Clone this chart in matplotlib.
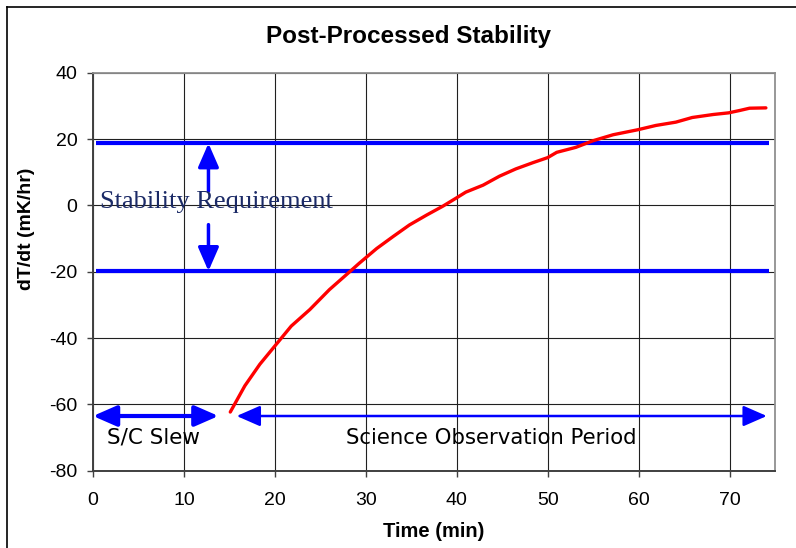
import matplotlib.pyplot as plt
from matplotlib.lines import Line2D

plt.rcParams['axes.unicode_minus'] = False

# Curve
time_min = [15.1, 16.7, 18.35, 20.0, 21.8, 23.85, 26.0, 28.4, 29.3, 31.2, 33.0,
            34.8, 36.7, 38.5, 40.0, 41.0, 42.9, 44.7, 46.5, 48.4, 50.0, 51.0,
            53.1, 55.0, 57.2, 59.9, 61.9, 64.1, 65.9, 68.2, 69.9, 71.1, 72.2, 74.0]
dtdt = [-62.3, -54.4, -47.9, -42.4, -36.4, -31.4, -25.4, -19.6, -17.4, -13.0, -9.4,
        -5.9, -2.9, -0.2, 2.3, 4.0, 6.1, 8.8, 11.0, 12.9, 14.4, 16.0,
        17.5, 19.5, 21.3, 22.8, 24.1, 25.1, 26.5, 27.4, 27.9, 28.6, 29.3, 29.4]

req_upper = 18.7
req_lower = -19.8
slew_end = 13.8
obs_start = 15.8
obs_end = 74.1
period_y = -63.5

fig = plt.figure(figsize=(7.96, 5.48), dpi=100)
ax = fig.add_axes([0.1168, 0.141, 0.8568, 0.7263])

# figure frame, only top and left edges show
fig.add_artist(Line2D([0.0085, 0.0085], [0, 0.987], transform=fig.transFigure,
                      color='black', linewidth=1.2))
fig.add_artist(Line2D([0.0085, 1], [0.987, 0.987], transform=fig.transFigure,
                      color='black', linewidth=1.2))

ax.set_xlim(0, 75)
ax.set_ylim(-80, 40)
ax.set_xticks(range(0, 71, 10))
ax.set_yticks(range(-80, 41, 20))
ax.grid(True, color='#202020', linewidth=0.8)
ax.set_axisbelow(True)
ax.tick_params(direction='out', length=4.3, width=1, labelsize=14, color='#404040')
ax.tick_params(axis='x', pad=11)
ax.tick_params(axis='y', pad=7)
for lbl in ax.get_xticklabels() + ax.get_yticklabels():
    lbl.set_family('Liberation Sans')
ax.spines['top'].set_color('#909090')
ax.spines['right'].set_color('#909090')
ax.spines['top'].set_linewidth(1.3)
ax.spines['right'].set_linewidth(1.3)
ax.spines['left'].set_color('#404040')
ax.spines['bottom'].set_color('#404040')
ax.spines['left'].set_linewidth(1.4)
ax.spines['bottom'].set_linewidth(1.4)

# requirement band lines
ax.hlines([req_upper, req_lower], 0.3, 74.3, color='#0000FF', linewidth=3)

# curve
ax.plot(time_min, dtdt, color='#FF0000', linewidth=2.4, zorder=5,
        solid_capstyle='round', solid_joinstyle='round')

# vertical requirement arrows
arrow_kw = dict(arrowstyle='-|>,head_length=0.8,head_width=0.35', color='#0000FF',
                lw=2.5, mutation_scale=18, shrinkA=0, shrinkB=0)
ax.annotate('', xy=(12.7, req_upper), xytext=(12.7, 4.3), arrowprops=arrow_kw)
ax.annotate('', xy=(12.7, req_lower), xytext=(12.7, -5.8), arrowprops=arrow_kw)
ax.text(0.77, 1.0, 'Stability Requirement', family='Liberation Serif', fontsize=19,
        color='#1B2A66', va='center', ha='left')

# slew / observation arrows
ax.annotate('', xy=(0.0, period_y), xytext=(slew_end, period_y),
            arrowprops=dict(arrowstyle='<|-|>,head_length=0.8,head_width=0.35',
                            color='#0000FF', lw=3, mutation_scale=18,
                            shrinkA=0, shrinkB=0))
ax.annotate('', xy=(obs_start, period_y), xytext=(obs_end, period_y),
            arrowprops=dict(arrowstyle='<|-|>,head_length=0.8,head_width=0.35',
                            color='#0000FF', lw=1.8, mutation_scale=18,
                            shrinkA=0, shrinkB=0))
ax.text(1.5, -70, 'S/C Slew', family='DejaVu Sans', fontsize=15.5, va='center', ha='left')
ax.text(27.8, -70, 'Science Observation Period', family='DejaVu Sans', fontsize=15.3,
        va='center', ha='left')

fig.text(408 / 796, 1 - 37 / 548, 'Post-Processed Stability', family='Liberation Sans',
         fontsize=17.5, fontweight='bold', ha='center', va='center')
ax.set_xlabel('Time (min)', family='Liberation Sans', fontsize=14.5, fontweight='bold',
              va='center')
ax.xaxis.set_label_coords(0.5, -0.1515)
ax.set_ylabel('dT/dt (mK/hr)', family='Liberation Sans', fontsize=14, fontweight='bold',
              va='center')
ax.yaxis.set_label_coords(-0.0968, 0.607)

fig.savefig('out.png', dpi=100)
